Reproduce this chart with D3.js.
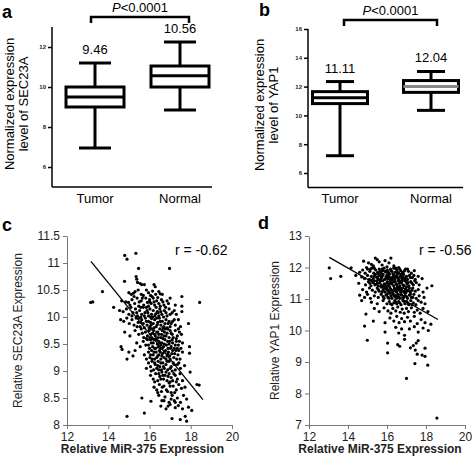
<!DOCTYPE html>
<html><head><meta charset="utf-8">
<script src="https://cdn.jsdelivr.net/npm/d3@7"></script>
<style>body{margin:0;background:#fff}svg{display:block;font-family:"Liberation Sans",Arial,sans-serif}</style>
</head><body>
<script>
// ---- data ----
const groups = ["Tumor", "Normal"];
// box stats: [min, q1, median, q3, max]
const boxA = [[6.95, 9.0, 9.5, 10.0, 11.2], [8.85, 10.0, 10.56, 11.05, 12.25]];
const boxB = [[7.2, 10.82, 11.22, 11.65, 12.35], [10.35, 11.6, 12.0, 12.42, 13.05]];
const meanLabelsA = ["9.46", "10.56"];
const meanLabelsB = ["11.11", "12.04"];
const ticksA = [6, 8, 10, 12];
const ticksB = [6, 8, 10, 12, 14, 16];
const ticksCy = [8, 8.5, 9, 9.5, 10, 10.5, 11, 11.5];
const ticksDy = [7, 8, 9, 10, 11, 12, 13];
const ticksX = [12, 14, 16, 18, 20];
const fitC = [[13.16, 11.03], [18.59, 8.47]];
const fitD = [[13.04, 12.32], [18.61, 10.35]];
const scatterC = [
[13.15,10.27],[13.25,10.28],[13.72,10.47],[14.26,10.18],[18.43,10.27],
[14.8,11.14],[14.91,11.07],[15.34,11.18],[15.47,10.9],[16.97,10.9],
[14.79,10.66],[15.35,10.75],[15.38,10.7],[15.55,10.62],[15.62,10.6],[15.75,10.6],[16.22,10.6],[16.28,10.56],[15.42,10.64],
[15.0,10.45],[15.12,10.42],[15.22,10.44],[15.3,10.47],[15.45,10.5],[15.6,10.42],[15.85,10.5],[15.95,10.45],[16.15,10.48],[16.45,10.47],[16.52,10.43],[16.62,10.42],[16.05,10.4],[16.3,10.42],[15.7,10.4],
[14.65,10.3],[14.85,10.28],[14.98,10.27],[15.15,10.32],[15.28,10.25],[15.4,10.35],[15.5,10.28],[15.6,10.3],[15.72,10.22],[15.82,10.35],[15.9,10.27],[16.0,10.32],[16.08,10.25],[16.18,10.35],[16.25,10.22],[16.35,10.3],[16.45,10.25],[16.58,10.32],[16.7,10.22],[16.85,10.3],[17.0,10.35],[17.25,10.22],[17.57,10.2],[17.57,10.38],[16.12,10.38],[15.95,10.2],
[14.55,10.12],[14.72,10.1],[14.88,10.15],[15.0,10.05],[15.1,10.18],[15.2,10.08],[15.32,10.15],[15.42,10.02],[15.52,10.12],[15.62,10.05],[15.7,10.18],[15.78,10.08],[15.88,10.12],[15.95,10.02],[16.02,10.15],[16.1,10.05],[16.18,10.12],[16.26,10.02],[16.32,10.18],[16.42,10.08],[16.5,10.15],[16.6,10.05],[16.72,10.12],[16.85,10.02],[16.95,10.15],[17.1,10.08],[17.3,10.05],[17.57,10.1],[15.58,10.18],[16.05,10.0],[16.38,10.1],
[14.6,9.95],[14.75,9.92],[14.9,9.98],[15.02,9.88],[15.15,9.95],[15.25,9.85],[15.35,9.98],[15.45,9.9],[15.55,9.82],[15.62,9.95],[15.7,9.88],[15.8,9.98],[15.88,9.85],[15.95,9.92],[16.02,9.82],[16.1,9.97],[16.18,9.88],[16.25,9.95],[16.32,9.82],[16.4,9.9],[16.48,9.98],[16.55,9.85],[16.62,9.92],[16.7,9.82],[16.8,9.95],[16.9,9.88],[17.0,9.82],[17.12,9.92],[17.25,9.85],[17.4,9.95],[17.89,9.88],[15.5,9.98],[16.05,9.9],[16.35,9.98],[15.98,9.8],
[14.8,9.72],[15.05,9.65],[15.3,9.75],[15.48,9.68],[15.6,9.78],[15.72,9.62],[15.8,9.72],[15.9,9.65],[15.98,9.75],[16.05,9.68],[16.12,9.6],[16.2,9.75],[16.28,9.65],[16.35,9.72],[16.42,9.62],[16.5,9.78],[16.58,9.68],[16.65,9.6],[16.72,9.72],[16.8,9.65],[16.88,9.78],[16.95,9.62],[17.05,9.7],[17.15,9.62],[17.25,9.75],[17.35,9.65],[17.45,9.72],[17.55,9.68],[16.15,9.7],[16.45,9.68],[16.75,9.78],[16.32,9.6],
[14.62,9.45],[14.67,9.4],[15.38,9.52],[15.55,9.45],[15.7,9.55],[15.82,9.48],[15.9,9.58],[16.0,9.42],[16.08,9.52],[16.15,9.45],[16.22,9.58],[16.3,9.42],[16.38,9.5],[16.45,9.55],[16.52,9.42],[16.6,9.52],[16.68,9.45],[16.75,9.58],[16.82,9.48],[16.9,9.42],[16.98,9.55],[17.05,9.45],[17.12,9.52],[17.2,9.42],[17.3,9.55],[17.4,9.48],[17.52,9.42],[17.6,9.52],[17.94,9.45],[16.55,9.48],[16.35,9.58],[16.95,9.5],
[14.91,9.22],[15.0,9.35],[15.2,9.28],[15.3,9.38],[15.75,9.3],[15.85,9.22],[15.95,9.35],[16.02,9.25],[16.1,9.38],[16.18,9.3],[16.25,9.22],[16.32,9.35],[16.4,9.28],[16.48,9.38],[16.55,9.22],[16.62,9.32],[16.7,9.25],[16.78,9.38],[16.85,9.28],[16.92,9.35],[17.0,9.22],[17.08,9.32],[17.18,9.25],[17.28,9.38],[17.38,9.3],[17.48,9.22],[17.6,9.35],[17.94,9.33],[16.05,9.3],[16.45,9.3],[16.8,9.22],
[15.85,9.05],[15.95,9.15],[16.05,9.08],[16.12,9.18],[16.2,9.02],[16.28,9.12],[16.35,9.05],[16.42,9.18],[16.5,9.08],[16.58,9.02],[16.65,9.15],[16.72,9.05],[16.8,9.12],[16.88,9.02],[16.95,9.18],[17.05,9.08],[17.15,9.15],[17.25,9.02],[17.35,9.12],[17.5,9.05],[17.7,9.1],[16.4,9.1],
[16.05,8.92],[16.18,8.85],[16.3,8.95],[16.4,8.82],[16.5,8.9],[16.6,8.98],[16.68,8.85],[16.75,8.92],[16.85,8.82],[16.95,8.95],[17.05,8.88],[17.12,8.82],[17.25,8.92],[17.35,8.85],[17.48,8.95],[17.6,8.82],[17.97,8.98],[16.9,8.9],
[16.22,8.7],[16.35,8.65],[16.48,8.75],[16.58,8.62],[16.7,8.72],[16.82,8.65],[16.95,8.78],[17.05,8.6],[17.15,8.72],[17.3,8.65],[17.42,8.75],[17.55,8.68],[17.72,8.7],[18.41,8.74],[18.3,8.75],
[15.63,8.5],[16.07,8.44],[16.45,8.55],[16.6,8.45],[16.75,8.52],[16.95,8.42],[17.1,8.55],[17.2,8.45],[17.35,8.5],[17.5,8.42],[17.65,8.55],[17.8,8.48],
[14.91,8.16],[15.75,8.22],[16.55,8.35],[16.8,8.3],[17.0,8.38],[17.25,8.32],[17.4,8.36],[17.6,8.3],[17.89,8.33],[18.05,8.27],[17.73,8.16],[17.8,8.07],[17.49,8.1],[17.09,8.12],
[15.05,10.22],[15.25,10.38],[15.48,10.2],[15.65,10.35],[15.85,10.18],[16.02,10.28],[16.22,10.28],[16.4,10.36],[16.52,10.2],[16.65,10.28],[16.78,10.18],[16.92,10.25],
[15.15,10.02],[15.38,10.08],[15.58,10.0],[15.75,10.02],[15.92,10.08],[16.15,10.0],[16.3,10.06],[16.45,10.02],[16.55,10.1],[16.68,10.0],[16.8,10.08],[17.0,10.05],[17.2,10.12],
[15.4,9.82],[15.58,9.9],[15.75,9.8],[15.85,9.92],[16.08,9.85],[16.22,9.8],[16.38,9.86],[16.52,9.92],[16.65,9.8],[16.75,9.88],[16.85,9.8],[16.95,9.92],[17.05,9.88],[17.2,9.95],[17.5,9.82],
[15.65,9.7],[15.85,9.6],[16.02,9.62],[16.1,9.78],[16.25,9.68],[16.4,9.72],[16.55,9.62],[16.62,9.75],[16.7,9.65],[16.85,9.7],[17.0,9.75],[17.1,9.68],[17.3,9.6],[17.4,9.78],
[15.95,9.48],[16.05,9.58],[16.18,9.52],[16.25,9.42],[16.42,9.45],[16.5,9.52],[16.62,9.42],[16.72,9.5],[16.88,9.55],[17.02,9.42],[17.1,9.58],[17.25,9.48],[17.35,9.42],[17.45,9.55],
[16.12,9.22],[16.22,9.35],[16.35,9.25],[16.52,9.35],[16.6,9.28],[16.72,9.35],[16.88,9.32],[16.98,9.28],[17.12,9.38],[17.22,9.32],[17.32,9.22],[17.42,9.38],
[16.08,9.0],[16.25,9.15],[16.45,9.02],[16.55,9.15],[16.68,9.08],[16.85,9.18],[17.0,9.05],[17.1,9.0],[17.2,9.12],[17.42,9.15],
[16.25,8.8],[16.45,8.95],[16.55,8.85],[16.65,8.92],[16.8,8.98],[17.0,8.8],[17.18,8.95],[17.3,8.8],
[16.4,8.6],[16.62,8.7],[16.88,8.62],[17.0,8.72],[17.22,8.6],[16.7,8.45],[17.05,8.48],[17.25,8.42],[16.9,8.35]
];
const scatterD = [
[13.04,11.99],[13.11,11.65],[13.63,11.72],[14.16,11.99],
[14.8,12.2],[15.05,12.15],[15.2,12.1],[15.4,12.3],[15.5,12.25],[15.6,12.18],[15.75,12.08],[15.9,12.22],[16.1,12.15],[16.35,12.05],[16.0,12.02],[15.3,12.05],[14.95,12.0],[16.6,12.0],[16.2,12.3],
[14.6,11.85],[14.75,11.92],[14.88,11.82],[15.0,11.95],[15.12,11.88],[15.22,11.98],[15.32,11.82],[15.42,11.92],[15.52,11.85],[15.6,11.95],[15.7,11.82],[15.78,11.9],[15.85,11.98],[15.95,11.85],[16.02,11.92],[16.1,11.82],[16.18,11.95],[16.25,11.88],[16.35,11.98],[16.42,11.85],[16.5,11.92],[16.6,11.82],[16.7,11.9],[16.82,11.85],[16.95,11.95],[17.1,11.88],[17.25,11.82],[17.4,11.9],[15.65,11.88],[16.3,11.8],
[14.4,11.75],[14.7,11.7],[14.85,11.65],[15.0,11.75],[15.1,11.62],[15.2,11.72],[15.3,11.65],[15.4,11.78],[15.48,11.68],[15.56,11.62],[15.64,11.75],[15.72,11.68],[15.8,11.78],[15.88,11.62],[15.96,11.72],[16.04,11.65],[16.12,11.78],[16.2,11.68],[16.28,11.62],[16.36,11.75],[16.44,11.68],[16.52,11.78],[16.6,11.62],[16.68,11.72],[16.76,11.65],[16.85,11.78],[16.95,11.68],[17.05,11.62],[17.15,11.75],[17.3,11.68],[17.45,11.62],[17.6,11.72],[17.8,11.65],[16.0,11.75],[16.4,11.62],
[14.55,11.5],[14.9,11.45],[15.05,11.55],[15.18,11.42],[15.28,11.52],[15.38,11.45],[15.46,11.58],[15.54,11.42],[15.62,11.52],[15.7,11.45],[15.78,11.58],[15.86,11.48],[15.94,11.42],[16.02,11.55],[16.1,11.45],[16.18,11.58],[16.26,11.48],[16.34,11.42],[16.42,11.55],[16.5,11.45],[16.58,11.58],[16.66,11.42],[16.74,11.52],[16.82,11.45],[16.92,11.58],[17.02,11.48],[17.12,11.42],[17.22,11.55],[17.35,11.45],[17.5,11.52],[17.65,11.45],[18.3,11.42],[16.2,11.5],[16.7,11.55],
[14.75,11.3],[14.95,11.22],[15.1,11.35],[15.25,11.28],[15.4,11.22],[15.5,11.35],[15.6,11.25],[15.7,11.38],[15.8,11.28],[15.9,11.22],[15.98,11.35],[16.06,11.25],[16.14,11.38],[16.22,11.28],[16.3,11.22],[16.38,11.35],[16.46,11.25],[16.54,11.38],[16.62,11.28],[16.7,11.22],[16.8,11.35],[16.9,11.25],[17.0,11.38],[17.1,11.28],[17.2,11.22],[17.32,11.35],[17.45,11.25],[17.6,11.3],[17.85,11.22],[18.05,11.35],[16.45,11.32],
[14.6,11.12],[14.85,11.05],[15.0,11.15],[15.15,11.02],[15.35,11.1],[15.55,11.05],[15.7,11.15],[15.85,11.02],[15.95,11.12],[16.05,11.05],[16.15,11.18],[16.25,11.02],[16.35,11.1],[16.45,11.05],[16.55,11.15],[16.65,11.02],[16.75,11.12],[16.85,11.05],[16.95,11.18],[17.05,11.02],[17.15,11.12],[17.25,11.05],[17.38,11.15],[17.5,11.02],[17.65,11.1],[17.9,11.05],[16.3,11.16],
[14.7,10.95],[15.2,10.9],[15.5,10.85],[15.8,10.95],[16.0,10.85],[16.12,10.92],[16.25,10.82],[16.4,10.95],[16.5,10.85],[16.6,10.92],[16.72,10.82],[16.82,10.95],[16.92,10.85],[17.02,10.92],[17.12,10.82],[17.22,10.95],[17.35,10.88],[17.48,10.82],[17.6,10.95],[17.75,10.9],[17.95,10.85],[16.35,10.88],
[14.92,10.52],[15.35,10.7],[15.6,10.6],[15.85,10.72],[16.05,10.62],[16.2,10.55],[16.3,10.7],[16.45,10.62],[16.55,10.75],[16.68,10.58],[16.78,10.68],[16.88,10.55],[17.0,10.7],[17.1,10.6],[17.25,10.72],[17.4,10.58],[17.55,10.65],[17.7,10.55],[17.85,10.7],[18.1,10.6],
[15.3,10.3],[15.9,10.25],[16.15,10.4],[16.35,10.3],[16.5,10.45],[16.62,10.25],[16.75,10.38],[16.9,10.28],[17.05,10.42],[17.2,10.3],[17.4,10.45],[17.55,10.22],[17.75,10.35],[17.95,10.25],[18.25,10.2],
[14.85,10.14],[15.9,9.95],[16.45,10.1],[16.6,9.92],[16.75,10.05],[16.9,9.85],[17.15,10.05],[17.4,10.12],[17.6,9.95],[18.12,10.0],[17.85,10.08],
[14.99,9.69],[16.03,9.6],[16.55,9.55],[16.65,9.5],[16.9,9.72],[17.2,9.45],[17.5,9.6],[17.6,9.68],[17.95,9.44],[17.45,9.38],[17.35,9.52],
[16.03,9.29],[17.95,9.18],[17.43,8.95],[18.09,8.9],[17.0,8.48],[18.56,7.22],[17.8,9.22],[17.55,9.25],
[15.15,11.95],[15.35,11.98],[15.55,11.8],[15.75,11.95],[15.9,11.88],[16.05,11.85],[16.2,11.9],[16.45,11.98],[16.55,11.85],[16.65,11.95],[16.78,11.82],[16.9,11.9],[17.05,11.95],
[15.25,11.6],[15.35,11.72],[15.52,11.7],[15.68,11.62],[15.75,11.72],[15.92,11.65],[16.08,11.7],[16.16,11.62],[16.32,11.7],[16.48,11.72],[16.56,11.68],[16.72,11.78],[16.8,11.7],[16.9,11.62],[17.0,11.72],[17.2,11.68],[17.38,11.75],
[15.12,11.5],[15.32,11.58],[15.5,11.5],[15.66,11.58],[15.82,11.42],[15.98,11.5],[16.06,11.42],[16.14,11.5],[16.3,11.55],[16.46,11.48],[16.62,11.5],[16.78,11.58],[16.88,11.42],[16.98,11.55],[17.08,11.52],[17.28,11.5],[17.42,11.58],
[15.55,11.3],[15.75,11.22],[15.85,11.35],[16.02,11.3],[16.1,11.22],[16.18,11.32],[16.34,11.28],[16.5,11.22],[16.58,11.32],[16.66,11.35],[16.75,11.28],[16.85,11.22],[16.95,11.32],[17.05,11.25],[17.15,11.35],[17.28,11.28],
[15.8,11.08],[16.0,11.15],[16.1,11.02],[16.2,11.1],[16.4,11.12],[16.5,11.02],[16.6,11.08],[16.7,11.15],[16.8,11.02],[16.9,11.1],[17.0,11.08],[17.2,11.15],[17.32,11.05],
[16.18,10.85],[16.45,10.9],[16.65,10.88],[16.88,10.92],[17.08,10.85],[17.28,10.82]
];

// ---- drawing ----
const W = 472, H = 456;
const svg = d3.select("body").append("svg").attr("width", W).attr("height", H);

function panelLabel(t, x, y) {
  svg.append("text").attr("x", x).attr("y", y).attr("font-size", 18).attr("font-weight", "bold").text(t);
}

function boxPanel(cfg) {
  const g = svg.append("g");
  const y = d3.scaleLinear().domain(cfg.ydom).range(cfg.yrange);
  const x = d3.scalePoint().domain(groups).range(cfg.xcenters);
  g.append("line").attr("x1", cfg.axisX).attr("x2", cfg.axisX).attr("y1", cfg.yrange[1]).attr("y2", cfg.yrange[0]).attr("stroke", "#000").attr("stroke-width", 1.5);
  g.append("line").attr("x1", cfg.axisX).attr("x2", cfg.axisRight).attr("y1", cfg.yrange[0]).attr("y2", cfg.yrange[0]).attr("stroke", "#000").attr("stroke-width", 1.5);
  const yAxis = d3.axisLeft(y).tickValues(cfg.ticks).tickSize(4).tickFormat(d3.format("d"));
  const ag = g.append("g").attr("transform", `translate(${cfg.axisX},0)`).call(yAxis);
  ag.select(".domain").remove();
  ag.selectAll(".tick line").attr("stroke-width", 1.5);
  ag.selectAll(".tick text").attr("font-size", 6).attr("font-weight", "bold").attr("font-family", "Liberation Sans, Arial").attr("fill", "#222").attr("x", -6);
  groups.forEach((gname) => {
    g.append("text").attr("x", x(gname)).attr("y", cfg.yrange[0] + 16).attr("text-anchor", "middle").attr("font-size", 13).text(gname);
  });
  const bw = cfg.boxW, cw = cfg.capW;
  cfg.data.forEach((s, i) => {
    const cx = x(groups[i]);
    const [mn, q1, md, q3, mx] = s;
    g.append("line").attr("x1", cx).attr("x2", cx).attr("y1", y(mx)).attr("y2", y(q3)).attr("stroke", "#000").attr("stroke-width", 3);
    g.append("line").attr("x1", cx).attr("x2", cx).attr("y1", y(q1)).attr("y2", y(mn)).attr("stroke", "#000").attr("stroke-width", 3);
    g.append("line").attr("x1", cx - cw / 2).attr("x2", cx + cw / 2).attr("y1", y(mx)).attr("y2", y(mx)).attr("stroke", "#000").attr("stroke-width", 3);
    g.append("line").attr("x1", cx - cw / 2).attr("x2", cx + cw / 2).attr("y1", y(mn)).attr("y2", y(mn)).attr("stroke", "#000").attr("stroke-width", 3);
    g.append("rect").attr("x", cx - bw / 2).attr("y", y(q3)).attr("width", bw).attr("height", y(q1) - y(q3)).attr("fill", "#fff").attr("stroke", "#000").attr("stroke-width", 3);
    g.append("line").attr("x1", cx - bw / 2).attr("x2", cx + bw / 2).attr("y1", y(md)).attr("y2", y(md)).attr("stroke", cfg.medianColor[i]).attr("stroke-width", 3);
    g.append("text").attr("x", cx).attr("y", y(mx) - 9).attr("text-anchor", "middle").attr("font-size", 13).text(cfg.labels[i]);
  });
  const [bx1, bx2] = cfg.bracketX, by = cfg.bracketY;
  g.append("path").attr("d", `M${bx1},${by + 6}V${by}H${bx2}V${by + 6}`).attr("fill", "none").attr("stroke", "#000").attr("stroke-width", 2.5);
  const pt = g.append("text").attr("x", (bx1 + bx2) / 2).attr("y", by - 5).attr("text-anchor", "middle").attr("font-size", 13);
  pt.append("tspan").attr("font-style", "italic").text("P");
  pt.append("tspan").text("<0.0001");
  const tt = g.append("text").attr("transform", `translate(${cfg.titleX},${cfg.titleY}) rotate(-90)`).attr("text-anchor", "middle").attr("font-size", 13);
  tt.append("tspan").attr("x", 0).attr("dy", 0).text(cfg.title[0]);
  tt.append("tspan").attr("x", 0).attr("dy", 14).text(cfg.title[1]);
}

function scatterPanel(cfg) {
  const g = svg.append("g");
  const x = d3.scaleLinear().domain([12, 20]).range(cfg.xrange);
  const y = d3.scaleLinear().domain(cfg.ydom).range(cfg.yrange);
  const xa = g.append("g").attr("transform", `translate(0,${cfg.yrange[0]})`).call(d3.axisBottom(x).tickValues(ticksX).tickSize(4).tickSizeOuter(0));
  const ya = g.append("g").attr("transform", `translate(${cfg.xrange[0]},0)`).call(d3.axisLeft(y).tickValues(cfg.yticks).tickSize(4).tickSizeOuter(0).tickFormat(d => d));
  [xa, ya].forEach(a => {
    a.select(".domain").attr("stroke", "#777");
    a.selectAll(".tick line").attr("stroke", "#777");
    a.selectAll(".tick text").attr("font-size", 12).attr("fill", "#222").attr("font-family", "Liberation Sans, Arial");
  });
  ya.selectAll(".tick text").attr("x", -7);
  g.append("g").selectAll("circle").data(cfg.data).join("circle")
    .attr("cx", d => x(d[0])).attr("cy", d => y(d[1])).attr("r", 1.6).attr("fill", "#000");
  g.append("line").attr("x1", x(cfg.fit[0][0])).attr("y1", y(cfg.fit[0][1])).attr("x2", x(cfg.fit[1][0])).attr("y2", y(cfg.fit[1][1])).attr("stroke", "#000").attr("stroke-width", 1.3);
  g.append("text").attr("x", cfg.rX).attr("y", cfg.yrange[1] + 19).attr("font-size", 14).text(cfg.r);
  g.append("text").attr("x", (cfg.xrange[0] + cfg.xrange[1]) / 2 - 7).attr("y", cfg.yrange[0] + 28).attr("text-anchor", "middle").attr("font-size", 12).attr("font-weight", "bold").attr("fill", "#222").text("Relative MiR-375 Expression");
  g.append("text").attr("transform", `translate(${cfg.titleX},${(cfg.yrange[0] + cfg.yrange[1]) / 2}) rotate(-90)`).attr("text-anchor", "middle").attr("font-size", 12).attr("fill", "#222").text(cfg.title);
}

boxPanel({ ydom: [5, 13], yrange: [187, 27], xcenters: [95, 180], axisX: 52, axisRight: 212, ticks: ticksA,
  data: boxA, labels: meanLabelsA, boxW: 58, capW: 32, medianColor: ["#000", "#000"],
  bracketX: [91, 189], bracketY: 17, titleX: 14, titleY: 104, title: ["Normalized expression", "level of SEC23A"] });
boxPanel({ ydom: [5, 16], yrange: [187.4, 29], xcenters: [340, 431], axisX: 308, axisRight: 463, ticks: ticksB,
  data: boxB, labels: meanLabelsB, boxW: 55, capW: 28, medianColor: ["#000", "#888"],
  bracketX: [344, 437], bracketY: 20, titleX: 264, titleY: 105, title: ["Normalized expression", "level of YAP1"] });

scatterPanel({ xrange: [67, 232], ydom: [8, 11.5], yrange: [425, 236], yticks: ticksCy, data: scatterC, fit: fitC,
  r: "r = -0.62", rX: 175, titleX: 22, title: "Relative SEC23A Expression" });
scatterPanel({ xrange: [309, 465], ydom: [7, 13], yrange: [425, 236], yticks: ticksDy, data: scatterD, fit: fitD,
  r: "r = -0.56", rX: 419, titleX: 279, title: "Relative YAP1 Expression" });

panelLabel("a", 2, 18);
panelLabel("b", 259, 16);
panelLabel("c", 2, 231);
panelLabel("d", 258, 229);
</script>
</body></html>
